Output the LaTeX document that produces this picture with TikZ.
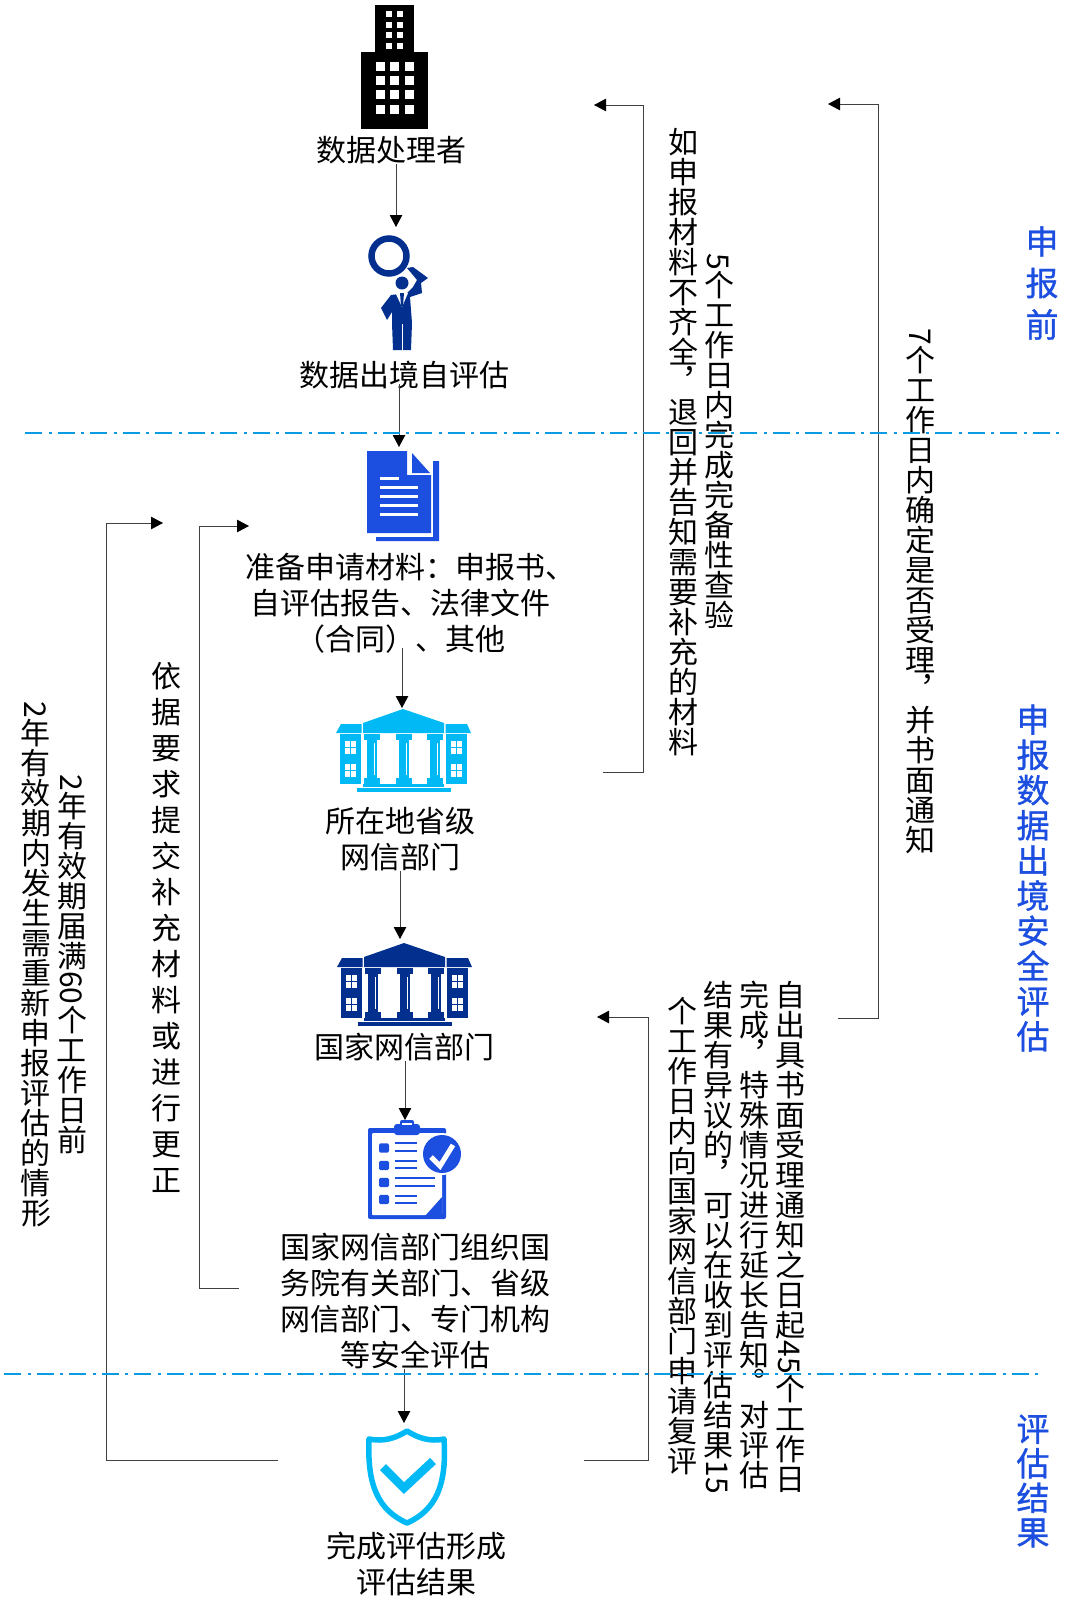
\documentclass[tikz,border=0pt]{standalone}
\usepackage{graphicx}
\usepackage{fontspec}
\usetikzlibrary{arrows.meta}
\setmainfont{Noto Sans CJK SC}
\newfontfamily\phasefont[FakeBold=1]{Noto Sans CJK SC}
% upright characters inside a node turned by -90
\newdimen\vpitch \vpitch=30pt
\newcommand{\upchar}[1]{\hbox to \vpitch{\hss\rotatebox[origin=c]{90}{\hbox to 30pt{\vrule width 0pt height 26.4pt depth 3.6pt\hss#1\hss}}\hss}}
\newcommand{\up}[1]{\upaux#1\relax}
\def\upaux#1{\ifx#1\relax\else\upchar{#1}\expandafter\upaux\fi}
\newcommand{\vpunct}[1]{\upchar{\hbox to 30pt{\hspace{14pt}\raise 21pt\hbox{#1}\hss}}}
\definecolor{hdblue}{HTML}{1C4FE0}
\definecolor{lineblue}{HTML}{0A9BE3}
\definecolor{navy}{HTML}{03308F}
\definecolor{skyblue}{HTML}{00B9F5}
\tikzset{
    x=1pt, y=-1pt,
    step-label/.style = {font=\fontsize{30}{36}\selectfont, align=center, text=black, inner sep=0pt},
    side-label/.style = {font=\fontsize{30}{36}\selectfont, rotate=-90, align=left, text=black, inner sep=0pt},
    phase-label/.style = {text=hdblue, align=center, inner sep=0pt},
    flow-line/.style = {draw=black!75, line width=1pt, -{Triangle[length=12pt,width=12.5pt,black]}},
    phase-line/.style = {draw=lineblue, line width=1.7pt, dash pattern=on 17pt off 6.5pt on 3pt off 6pt},
}
\begin{document}
\begin{tikzpicture}
\useasboundingbox (0,0) rectangle (1080,1619);
% building
\fill[black] (361,52) rectangle (428,129);
\fill[black] (375,5) rectangle (414,52);
\foreach \r in {11,22,32,43} \foreach \c in {386,397}
    \fill[white] (\c,\r) rectangle +(6,6);
\foreach \r in {62,76,90,105} \foreach \c in {376,390,405}
    \fill[white] (\c,\r) rectangle +(9,9);
\node[step-label] (owner) at (391,150) {数据处理者};
% inspector
\coordinate (person-top) at (396,227);
\draw[navy, line width=6.5pt] (389,256) circle (17.5);
\fill[navy] (402,283) circle (6.5);
\fill[navy] (391,295) -- (381,308) -- (387,320) -- (392,312) -- (392,323) -- (393,350) -- (411,350) -- (412,323) -- (410,297)
    -- (422,293) -- (421,283) -- (428,278) -- (413,267) -- (407,268) -- (417,280) -- (413,287) -- (407,293) -- cycle;
\fill[white] (395,292) -- (408,293) -- (402,307) -- cycle;
\fill[navy] (400,293) -- (404,293) -- (403,306) -- (401,306) -- cycle;
\draw[white, line width=0.8pt] (402,324) -- (402,350);
\node[step-label] (assess) at (404,375) {数据出境自评估};
% document
\coordinate (doc-top) at (399,447);
\fill[hdblue] (433,461) -- (439,461) -- (439,541) -- (376,541) -- (376,537) -- (433,537) -- cycle;
\fill[hdblue] (367,451) -- (407,451) -- (407,475) -- (431,475) -- (431,533) -- (367,533) -- cycle;
\fill[hdblue] (412,453) -- (430,473) -- (412,473) -- cycle;
\fill[white] (380,476.5) rectangle (399,480);
\foreach \r in {485.5,494.5,503.5,512.5}
    \fill[white] (380,\r) rectangle +(38,3.5);
\node[step-label] (material) at (400,603.5) {\hspace*{20pt}准备申请材料：申报书、\\自评估报告、法律文件\\（合同）、其他};
% province and nation
\foreach \hallcol/\hallx/\hally in {skyblue/403/709, navy/404/943} {
\begin{scope}[shift={(\hallx,\hally)}]
    \fill[\hallcol] (-40,14) -- (0,0) -- (41,14) -- (41,24) -- (-40,24) -- cycle;
    \fill[\hallcol] (-67,24) -- (-62,15) -- (-41.5,15) -- (-41.5,24) -- cycle;
    \fill[\hallcol] (42.5,15) -- (64,15) -- (68,24) -- (42.5,24) -- cycle;
    \fill[\hallcol] (-63,25) rectangle (-42,75);
    \fill[\hallcol] (43,25) rectangle (64,75);
    \foreach \xa in {-58,48} \foreach \ya in {32,55} {
        \fill[white] (\xa,\ya) rectangle +(11,12.5);
        \fill[\hallcol] (\xa+5,\ya) rectangle +(1,12.5);
        \fill[\hallcol] (\xa,\ya+5.8) rectangle +(11,1);
    }
    \foreach \cx in {-31,1,32} {
        \fill[\hallcol] (\cx-8,25) rectangle (\cx+8,31);
        \fill[\hallcol] (\cx-5.5,31) rectangle (\cx+5,69);
        \fill[\hallcol] (\cx-8,69) rectangle (\cx+8,76);
        \fill[white] (\cx+1.5,34) rectangle (\cx+3.2,66);
    }
    \fill[\hallcol] (-40,75) rectangle (41,78);
    \fill[\hallcol] (-46,79) rectangle (48,83);
\end{scope}}
\coordinate (province-top) at (402,708);
\coordinate (nation-top) at (400,939);
\node[step-label] (province) at (400,839) {所在地省级\\网信部门};
\node[step-label] (nation) at (404,1047) {国家网信部门};
% checklist
\coordinate (check-top) at (405,1120);
\fill[hdblue, rounded corners=2pt] (368,1128) rectangle (446,1219);
\fill[white, rounded corners=1pt] (372,1133) rectangle (442,1215);
\fill[hdblue, rounded corners=3pt] (394,1124) rectangle (420,1135);
\fill[hdblue, rounded corners=2pt] (400,1120) rectangle (414,1128);
\fill[white] (402,1123) rectangle (412,1125);
\foreach \yb/\ya/\yc in {1148/1143/1151, 1165.5/1161/1168, 1182.5/1178/1186, 1199.5/1196/1203} {
    \fill[hdblue, rounded corners=1.5pt] (379,\yb-4.7) rectangle +(10,9.4);
    \draw[hdblue, line width=1.8pt] (395,\ya) -- (417,\ya);
    \draw[hdblue, line width=1.8pt] (395,\yc) -- (417,\yc);
}
\draw[hdblue, line width=1.8pt] (417,1178) -- (435,1178);
\draw[hdblue, line width=1.8pt] (417,1186) -- (435,1186);
\fill[hdblue] (442,1197) -- (442,1216) -- (425,1216) -- cycle;
\fill[white] (424,1200) -- (436,1199) -- (424,1211) -- cycle;
\fill[white] (442,1154) circle (21);
\fill[hdblue] (442,1154) circle (19);
\draw[white, line width=5pt] (431,1157) -- (440,1166) -- (453,1145);
\node[step-label] (organise) at (415,1301) {国家网信部门组织国\\务院有关部门、省级\\网信部门、专门机构\\等安全评估};
% shield
\coordinate (shield-top) at (404,1423);
\draw[skyblue, line width=5.5pt, line join=round] (407,1431) .. controls (396,1438) and (384,1442) .. (369,1439) .. controls (367,1485) and (378,1510) .. (407,1523) .. controls (436,1510) and (447,1485) .. (444,1439) .. controls (430,1442) and (418,1438) .. (407,1431) -- cycle;
\draw[skyblue, line width=8.5pt] (383,1467) -- (404,1488) -- (433,1461);
\node[step-label] (outcome) at (416,1564) {完成评估形成\\评估结果};
% flow
\draw[flow-line] (owner.south -| person-top) -- (person-top);
\draw[flow-line] ([yshift=5pt]assess.south -| doc-top) -- (doc-top);
\draw[flow-line] ([yshift=6pt]material.south -| province-top) -- (province-top);
\draw[flow-line] (province.south -| nation-top) -- (nation-top);
\draw[flow-line] (nation.south -| check-top) -- (check-top);
\draw[flow-line] (organise.south -| shield-top) -- (shield-top);
% side arrows
\coordinate (check-from) at (603,772);
\coordinate (check-to) at (594,105);
\draw[flow-line] (check-from) -- (643,772) -- (643,105) -- (check-to);
\coordinate (accept-from) at (838,1018);
\coordinate (accept-to) at (828,104);
\draw[flow-line] (accept-from) -- (878,1018) -- (878,104) -- (accept-to);
\coordinate (review-from) at (584,1460);
\coordinate (review-to) at (597,1017);
\draw[flow-line] (review-from) -- (648,1460) -- (648,1017) -- (review-to);
\coordinate (fix-from) at (239,1288);
\coordinate (fix-to) at (249,526);
\draw[flow-line] (fix-from) -- (199.5,1288) -- (199.5,526) -- (fix-to);
\coordinate (renew-from) at (278,1460);
\coordinate (renew-to) at (163,523);
\draw[flow-line] (renew-from) -- (106,1460) -- (106,523) -- (renew-to);
% side notes
\node[side-label] (check-note) at (701,442) {\hspace*{126pt}5\up{个工作日内完成完备性查验}\\\up{如申报材料不齐全}\vpunct{，}\up{退回并告知需要补充的材料}};
\node[side-label] (accept-note) at (921,592) {7\up{个工作日内确定是否受理}\vpunct{，}\up{并书面通知}};
\node[side-label] (review-note) at (736,1237) {\up{自出具书面受理通知之日起}45\up{个工作日}\\\up{完成}\vpunct{，}\up{特殊情况进行延长告知}\vpunct{。}\up{对评估}\\\up{结果有异议的}\vpunct{，}\up{可以在收到评估结果}15\\\hspace*{16pt}\up{个工作日内向国家网信部门申请复评}};
\node[side-label] (fix-note) at (166,928) {\vpitch=36pt\up{依据要求提交补充材料或进行更正}};
\node[side-label] (renew-note) at (54,965) {\hspace*{73pt}2\up{年有效期届满}60\up{个工作日前}\\2\up{年有效期内发生需重新申报评估的情形}};
% phases
\node[phase-label, font=\fontsize{33}{41.5}\selectfont\phasefont] (before) at (1042,283) {申\\报\\前};
\node[phase-label, font=\fontsize{33}{35.2}\selectfont\phasefont] (review) at (1033,878) {申\\报\\数\\据\\出\\境\\安\\全\\评\\估};
\node[phase-label, font=\fontsize{33}{34.5}\selectfont\phasefont] (result) at (1033,1481) {评\\估\\结\\果};
\draw[phase-line] (25,433) -- (1060,433);
\draw[phase-line] (4,1374) -- (1042,1374);
\end{tikzpicture}
\end{document}
